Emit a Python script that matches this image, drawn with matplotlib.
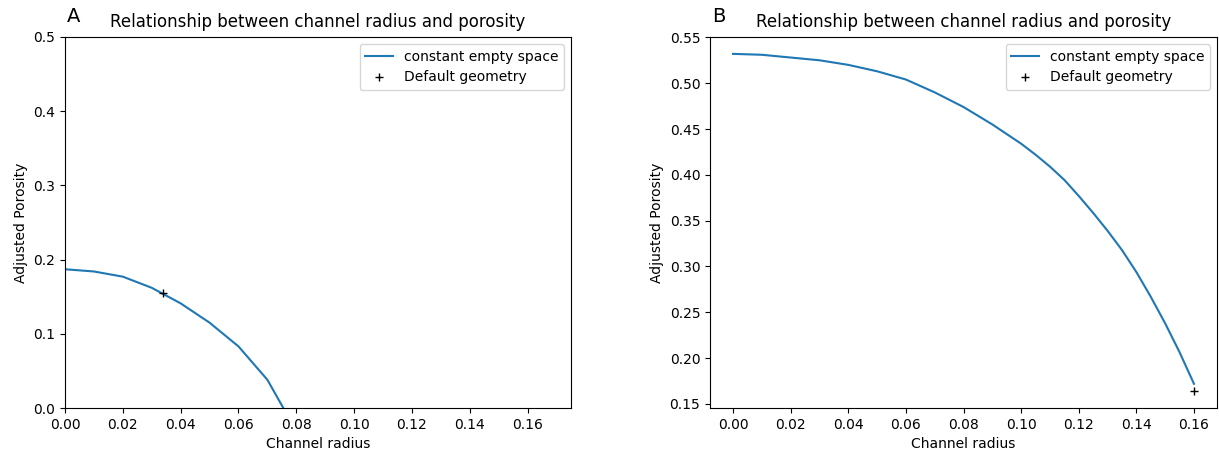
import matplotlib
matplotlib.use("Agg")
import matplotlib.pyplot as plt

# Panel A: constant empty space curve and default geometry
radius_a = [0.0, 0.01, 0.02, 0.03, 0.04, 0.05, 0.06, 0.07, 0.0755]
porosity_a = [0.187, 0.184, 0.177, 0.162, 0.141, 0.115, 0.083, 0.038, 0.0]
default_a = (0.034, 0.155)

# Panel B
radius_b = [0.0, 0.01, 0.02, 0.03, 0.04, 0.05, 0.06, 0.07, 0.08,
            0.09, 0.10, 0.105, 0.11, 0.115, 0.12, 0.125, 0.13, 0.135,
            0.14, 0.145, 0.15, 0.155, 0.16]
porosity_b = [0.532, 0.531, 0.528, 0.525, 0.520, 0.513, 0.504, 0.490, 0.474,
              0.455, 0.434, 0.422, 0.409, 0.3945, 0.377, 0.3585, 0.339, 0.318,
              0.294, 0.267, 0.238, 0.2065, 0.172]
default_b = (0.16, 0.164)

title = "Relationship between channel radius and porosity"

fig = plt.figure(figsize=(12.19, 4.55), dpi=100)
W, H = 1219, 455
ax1 = fig.add_axes([65 / W, 1 - 408 / H, (571 - 65) / W, (408 - 37) / H])
ax2 = fig.add_axes([710 / W, 1 - 408 / H, (1217 - 710) / W, (408 - 37) / H])

for ax, r, p, d, tag in [(ax1, radius_a, porosity_a, default_a, "A"),
                         (ax2, radius_b, porosity_b, default_b, "B")]:
    ax.plot(r, p, color="#1f77b4", label="constant empty space")
    ax.plot([d[0]], [d[1]], "k+", label="Default geometry")
    ax.set_title(title, fontsize=12, pad=7)
    ax.set_xlabel("Channel radius")
    ax.set_ylabel("Adjusted Porosity")
    ax.legend(loc="upper right")
    ax.text(0.004, 1.03, tag, transform=ax.transAxes, fontsize=14,
            ha="left", va="bottom")

ax1.set_xlim(0, 0.175)
ax1.set_ylim(0, 0.5)

fig.savefig("out.png", dpi=100)
